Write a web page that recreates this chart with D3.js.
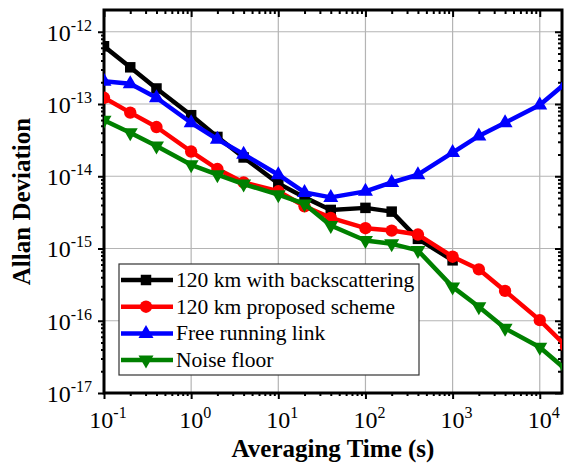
<!DOCTYPE html>
<html>
<head>
<meta charset="utf-8">
<script src="https://cdn.jsdelivr.net/npm/d3@7"></script>
<style>
  body { margin: 0; background: #fff; }
  svg { display: block; }
</style>
</head>
<body>
<svg id="chart" width="564" height="463"></svg>
<script>
// averaging times (s)
var tau = [0.1, 0.2, 0.4, 1, 2, 4, 10, 20, 40, 100, 200, 400, 1000, 2000, 4000, 10000, 20000];

var backscatter = [6.3e-13, 3.22e-13, 1.64e-13, 7.0e-14, 3.5e-14, 1.82e-14, 7.96e-15, 5.1e-15,
	3.42e-15, 3.65e-15, 3.24e-15, 1.36e-15, 6.86e-16];
var proposed = [1.22e-13, 7.6e-14, 4.8e-14, 2.2e-14, 1.26e-14, 8.2e-15, 6.2e-15, 3.84e-15,
	2.65e-15, 1.91e-15, 1.77e-15, 1.56e-15, 7.7e-16, 5.15e-16, 2.59e-16, 1.02e-16, 4.45e-17];
var freeRunning = [2.07e-13, 1.9e-13, 1.22e-13, 5.5e-14, 3.25e-14, 2.02e-14, 1.05e-14, 5.98e-15,
	5.1e-15, 6.18e-15, 8.2e-15, 1.05e-14, 2.13e-14, 3.61e-14, 5.5e-14, 9.66e-14, 1.96e-13];
var noiseFloor = [5.94e-14, 4.0e-14, 2.63e-14, 1.44e-14, 1.05e-14, 7.8e-15, 5.56e-15, 4.14e-15,
	2.08e-15, 1.29e-15, 1.16e-15, 9.4e-16, 2.94e-16, 1.56e-16, 7.85e-17, 4.3e-17, 2.1e-17];

var seriesNames = ["120 km with backscattering", "120 km proposed scheme", "Free running link", "Noise floor"];
var seriesColors = ["#000000", "#ff0000", "#0000ff", "#008000"];
var seriesSymbols = ["square", "circle", "up", "down"];

var xTickExps = [-1, 0, 1, 2, 3, 4];
var yTickExps = [-17, -16, -15, -14, -13, -12];

var FONT = "'Liberation Serif', 'DejaVu Serif', serif";

var width = 564, height = 463;
var margin = {top: 10, right: 2, bottom: 70, left: 104};
var plotW = width - margin.left - margin.right;
var plotH = height - margin.top - margin.bottom;

var svg = d3.select('#chart');
var g = svg.append('g').attr('transform', 'translate(' + margin.left + ',' + margin.top + ')');

var x = d3.scaleLog().domain([0.1, 1.8e4]).range([0, plotW]);
var y = d3.scaleLog().domain([1e-17, 2e-12]).range([plotH, 0]);

// minor tick positions
function minors(lo, hi) {
	var out = [];
	for (var e = lo; e <= hi; e++) {
		for (var k = 2; k <= 9; k++) out.push(k * Math.pow(10, e));
	}
	return out;
}
var xMinor = minors(-1, 4).filter(function(d) { return d <= x.domain()[1]; });
var yMinor = minors(-17, -13).filter(function(d) { return d <= y.domain()[1]; });
var xMajor = xTickExps.map(function(e) { return Math.pow(10, e); });
var yMajor = yTickExps.map(function(e) { return Math.pow(10, e); });

// grid
g.append('g').attr('class', 'grid')
	.selectAll('line.gx')
	.data(xMajor.slice(1))
	.enter()
	.append('line')
	.attr('x1', function(d) { return x(d); })
	.attr('x2', function(d) { return x(d); })
	.attr('y1', 0)
	.attr('y2', plotH)
	.attr('stroke', '#b4b4b4')
	.attr('stroke-width', 1.2);

g.select('.grid')
	.selectAll('line.gy')
	.data(yMajor.slice(1))
	.enter()
	.append('line')
	.attr('x1', 0)
	.attr('x2', plotW)
	.attr('y1', function(d) { return y(d); })
	.attr('y2', function(d) { return y(d); })
	.attr('stroke', '#b4b4b4')
	.attr('stroke-width', 1.2);

// axes (ticks only, labels drawn separately)
function styleAxis(sel) {
	sel.select('.domain').remove();
	sel.selectAll('line').attr('stroke', '#000').attr('stroke-width', 2);
	sel.selectAll('text').remove();
}
g.append('g').attr('transform', 'translate(0,' + plotH + ')')
	.call(d3.axisBottom(x).tickValues(xMajor).tickSize(6)).call(styleAxis);
g.append('g').attr('transform', 'translate(0,' + plotH + ')')
	.call(d3.axisBottom(x).tickValues(xMinor).tickSize(3)).call(styleAxis);
g.append('g')
	.call(d3.axisBottom(x).tickValues(xMajor).tickSize(7)).call(styleAxis);
g.append('g')
	.call(d3.axisBottom(x).tickValues(xMinor).tickSize(4)).call(styleAxis);
g.append('g')
	.call(d3.axisLeft(y).tickValues(yMajor).tickSize(6)).call(styleAxis);
g.append('g')
	.call(d3.axisLeft(y).tickValues(yMinor).tickSize(3)).call(styleAxis);
g.append('g').attr('transform', 'translate(' + plotW + ',0)')
	.call(d3.axisLeft(y).tickValues(yMajor).tickSize(7)).call(styleAxis);
g.append('g').attr('transform', 'translate(' + plotW + ',0)')
	.call(d3.axisLeft(y).tickValues(yMinor).tickSize(4)).call(styleAxis);

// frame
g.append('rect')
	.attr('x', 0).attr('y', 0)
	.attr('width', plotW).attr('height', plotH)
	.attr('fill', 'none')
	.attr('stroke', '#000')
	.attr('stroke-width', 3);

// tick labels
var xl = g.append('g').attr('class', 'xlabels')
	.selectAll('text')
	.data(xTickExps)
	.enter()
	.append('text')
	.attr('x', function(d) { return x(Math.pow(10, d)) + 4; })
	.attr('y', plotH + 35)
	.attr('text-anchor', 'middle')
	.style('font-family', FONT)
	.style('font-size', '24px');
xl.append('tspan').text('10');
xl.append('tspan').attr('dy', -10).style('font-size', '16px').text(function(d) { return d; });

var yl = g.append('g').attr('class', 'ylabels')
	.selectAll('text')
	.data(yTickExps)
	.enter()
	.append('text')
	.attr('x', -12)
	.attr('y', function(d) { return y(Math.pow(10, d)) + 9; })
	.attr('text-anchor', 'end')
	.style('font-family', FONT)
	.style('font-size', '24px');
yl.append('tspan').text('10');
yl.append('tspan').attr('dy', -10).style('font-size', '16px').text(function(d) { return '-' + (-d); });

// axis titles
svg.append('text')
	.attr('x', margin.left + plotW / 2)
	.attr('y', 457)
	.attr('text-anchor', 'middle')
	.style('font-family', FONT)
	.style('font-size', '25px')
	.style('font-weight', 'bold')
	.text('Averaging Time (s)');

svg.append('text')
	.attr('transform', 'translate(30,' + (margin.top + plotH / 2) + ') rotate(-90)')
	.attr('text-anchor', 'middle')
	.style('font-family', FONT)
	.style('font-size', '25px')
	.style('font-weight', 'bold')
	.text('Allan Deviation');

// data
svg.append('defs').append('clipPath').attr('id', 'plotClip')
	.append('rect').attr('x', 0).attr('y', 0).attr('width', plotW).attr('height', plotH);

var allSeries = [backscatter, proposed, freeRunning, noiseFloor];

function symbolPath(kind) {
	if (kind === 'square') return d3.symbol().type(d3.symbolSquare).size(110)();
	if (kind === 'circle') return d3.symbol().type(d3.symbolCircle).size(120)();
	if (kind === 'up') return 'M0,-8.5L7.5,4.5L-7.5,4.5Z';
	return 'M0,8.5L7.5,-4.5L-7.5,-4.5Z';
}

var line = d3.line()
	.x(function(d) { return x(d[0]); })
	.y(function(d) { return y(d[1]); });

var dataG = g.append('g').attr('clip-path', 'url(#plotClip)');

allSeries.forEach(function(vals, i) {
	var pts = vals.map(function(v, j) { return [tau[j], v]; });
	var sg = dataG.append('g').attr('class', 'series');
	sg.append('path')
		.datum(pts)
		.attr('d', line)
		.attr('fill', 'none')
		.attr('stroke', seriesColors[i])
		.attr('stroke-width', 4.5)
		.attr('stroke-linejoin', 'round');
	sg.selectAll('path.mark')
		.data(pts)
		.enter()
		.append('path')
		.attr('class', 'mark')
		.attr('transform', function(d) { return 'translate(' + x(d[0]) + ',' + y(d[1]) + ')'; })
		.attr('d', symbolPath(seriesSymbols[i]))
		.attr('fill', seriesColors[i]);
});

// legend
var legX = 119 - margin.left, legY = 264 - margin.top;
var leg = g.append('g').attr('class', 'legend');
leg.append('rect')
	.attr('x', legX).attr('y', legY)
	.attr('width', 300).attr('height', 111)
	.attr('fill', '#fff')
	.attr('stroke', '#333')
	.attr('stroke-width', 1.2);

var items = leg.selectAll('g.item')
	.data(seriesNames)
	.enter()
	.append('g')
	.attr('class', 'item')
	.attr('transform', function(d, i) { return 'translate(' + legX + ',' + (legY + 16 + i * 26.7) + ')'; });
items.append('line')
	.attr('x1', 2).attr('x2', 54)
	.attr('y1', 0).attr('y2', 0)
	.attr('stroke', function(d, i) { return seriesColors[i]; })
	.attr('stroke-width', 4.5);
items.append('path')
	.attr('transform', 'translate(27,0)')
	.attr('d', function(d, i) { return symbolPath(seriesSymbols[i]); })
	.attr('fill', function(d, i) { return seriesColors[i]; });
items.append('text')
	.attr('x', 57)
	.attr('y', 7)
	.style('font-family', FONT)
	.style('font-size', '21.5px')
	.text(function(d) { return d; });
</script>
</body>
</html>
